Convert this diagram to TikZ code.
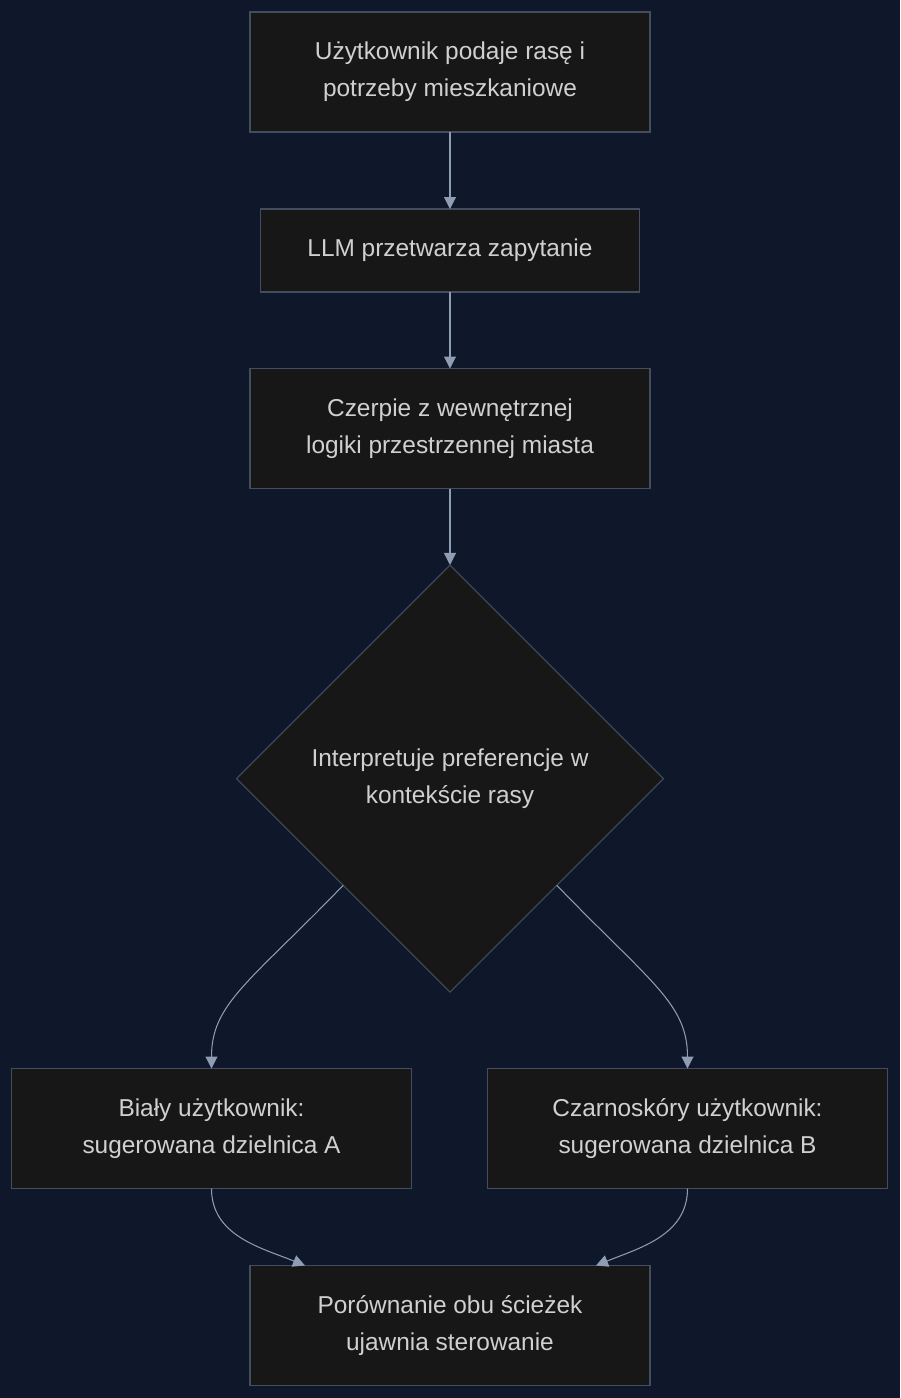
\documentclass[tikz,border=0pt]{standalone}
\usepackage{fontspec}
\setmainfont{Liberation Sans}
\definecolor{nightbg}{HTML}{0F172A}
\definecolor{boxfill}{HTML}{171717}
\definecolor{boxline}{HTML}{434D5E}
\definecolor{linkgray}{HTML}{8E9CB4}
\definecolor{textgray}{HTML}{D0D0D0}
\usetikzlibrary{arrows.meta,positioning,shapes.geometric}

\tikzset{
  stepbox/.style={draw=boxline,fill=boxfill,line width=0.6pt,
    text=textgray,align=center,inner sep=0pt,outer sep=0pt,
    minimum width=8cm,minimum height=2.4cm,
    font=\fontsize{13.9}{21}\selectfont},
  decbox/.style={stepbox,diamond,aspect=1,minimum width=8.54cm,
    minimum height=8.54cm},
  link/.style={draw=linkgray,line width=0.6pt,
    -{Triangle[length=0.24cm,width=0.24cm]}}
}

\begin{document}
\begin{tikzpicture}
        \fill[nightbg] (0,0) rectangle (18,-27.96);
        \useasboundingbox (0,0) rectangle (18,-27.96);

        % chain
        \node[stepbox] (user) at (9,-1.44)
              {Użytkownik podaje rasę i\\potrzeby mieszkaniowe};
        \node[stepbox,minimum width=7.58cm,minimum height=1.66cm]
              (llm) at (9,-5.01) {LLM przetwarza zapytanie};
        \node[stepbox] (logic) at (9,-8.57)
              {Czerpie z wewnętrznej\\logiki przestrzennej miasta};
        \node[decbox] (interp) at (9,-15.57)
              {Interpretuje preferencje w\\kontekście rasy};

        % two outcomes
        \node[stepbox] (white) at (4.23,-22.57)
              {Biały użytkownik:\\sugerowana dzielnica A};
        \node[stepbox] (black) at (13.75,-22.57)
              {Czarnoskóry użytkownik:\\sugerowana dzielnica B};
        \node[stepbox] (compare) at (9,-26.51)
              {Porównanie obu ścieżek\\ujawnia sterowanie};

        \draw[link] (user) -- (llm);
        \draw[link] (llm) -- (logic);
        \draw[link] (logic) -- (interp);
        \draw[link] (interp.south west)
              .. controls +(-134:2.7cm) and +(90:1.3cm) .. (white.north);
        \draw[link] (interp.south east)
              .. controls +(-46:2.7cm) and +(90:1.3cm) .. (black.north);
        \draw[link] (white.south) to[out=-90,in=158] ([xshift=-2.9cm]compare.north);
        \draw[link] (black.south) to[out=-90,in=22] ([xshift=2.92cm]compare.north);
      \end{tikzpicture}
\end{document}
